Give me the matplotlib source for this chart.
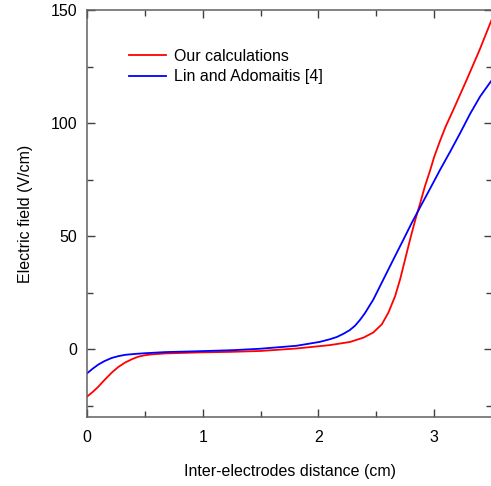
import matplotlib
matplotlib.use("Agg")
import matplotlib.pyplot as plt
from matplotlib.ticker import MultipleLocator

plt.rcParams['font.family'] = ['Liberation Sans', 'DejaVu Sans']

# Our calculations (red)
x_ours = [0.0, 0.05, 0.098, 0.15, 0.213, 0.27, 0.33, 0.39, 0.444, 0.5, 0.56, 0.674,
          0.8, 1.0, 1.236, 1.5, 1.81, 2.1, 2.274, 2.389, 2.475, 2.548, 2.605, 2.663,
          2.706, 2.749, 2.792, 2.836, 2.879, 2.92, 2.965, 3.0, 3.05, 3.1, 3.167,
          3.28, 3.39, 3.49, 3.5]
y_ours = [-21.0, -18.9, -16.6, -13.7, -10.4, -7.9, -5.9, -4.4, -3.3, -2.7, -2.3, -1.9,
          -1.7, -1.4, -1.2, -0.8, 0.3, 1.8, 3.2, 5.1, 7.4, 11.0, 16.2, 23.5,
          30.9, 39.7, 48.5, 57.0, 64.5, 72.0, 79.0, 85.0, 92.0, 98.5, 106.0,
          119.0, 132.0, 144.8, 146.0]

# Lin and Adomaitis [4] (blue)
x_lin = [0.0, 0.05, 0.098, 0.15, 0.213, 0.27, 0.33, 0.415, 0.5, 0.674, 0.9, 1.1,
         1.28, 1.5, 1.81, 2.01, 2.1, 2.16, 2.216, 2.27, 2.317, 2.36, 2.403, 2.475,
         2.562, 2.648, 2.735, 2.807, 2.879, 2.965, 3.052, 3.14, 3.225, 3.31, 3.398,
         3.49, 3.5]
y_lin = [-10.7, -8.6, -6.8, -5.3, -3.9, -3.1, -2.5, -2.1, -1.8, -1.3, -1.0, -0.7,
         -0.4, 0.2, 1.5, 3.2, 4.4, 5.4, 6.8, 8.4, 10.4, 13.0, 16.0, 22.0,
         30.9, 39.7, 48.5, 55.9, 62.8, 71.0, 79.4, 87.5, 95.6, 104.0, 111.8,
         118.4, 119.0]

fig = plt.figure(figsize=(4.91, 4.86), dpi=100)
ax = fig.add_axes([87/491, 1-417/486, (492-87)/491, (417-10)/486])

ax.plot(x_ours, y_ours, color='#ff0000', lw=1.3, label='Our calculations')
ax.plot(x_lin, y_lin, color='#0000ff', lw=1.3, label='Lin and Adomaitis [4]')

ax.set_xlim(0, 3.5)
ax.set_ylim(-30, 150)
ax.xaxis.set_major_locator(MultipleLocator(1))
ax.xaxis.set_minor_locator(MultipleLocator(0.5))
ax.yaxis.set_major_locator(MultipleLocator(50))
ax.yaxis.set_minor_locator(MultipleLocator(25))

for s in ax.spines.values():
    s.set_color('#606060')
    s.set_linewidth(1.1)

fs = 11.5
ax.tick_params(which='both', direction='in', top=True, right=True, color='#404040', width=1.0)
ax.tick_params(which='major', length=6, labelsize=fs)
ax.tick_params(which='minor', length=4)
ax.tick_params(axis='x', which='major', pad=9)
ax.tick_params(axis='y', which='major', pad=7)

ax.set_xlabel('Inter-electrodes distance (cm)', fontsize=fs, labelpad=14)
ax.set_ylabel('Electric field (V/cm)', fontsize=fs, labelpad=13)

leg = ax.legend(loc='upper left', bbox_to_anchor=(0.068, 0.94), frameon=False,
                fontsize=fs, handlelength=2.3, handletextpad=0.55, labelspacing=0.35)

fig.savefig('out.png', dpi=100)
